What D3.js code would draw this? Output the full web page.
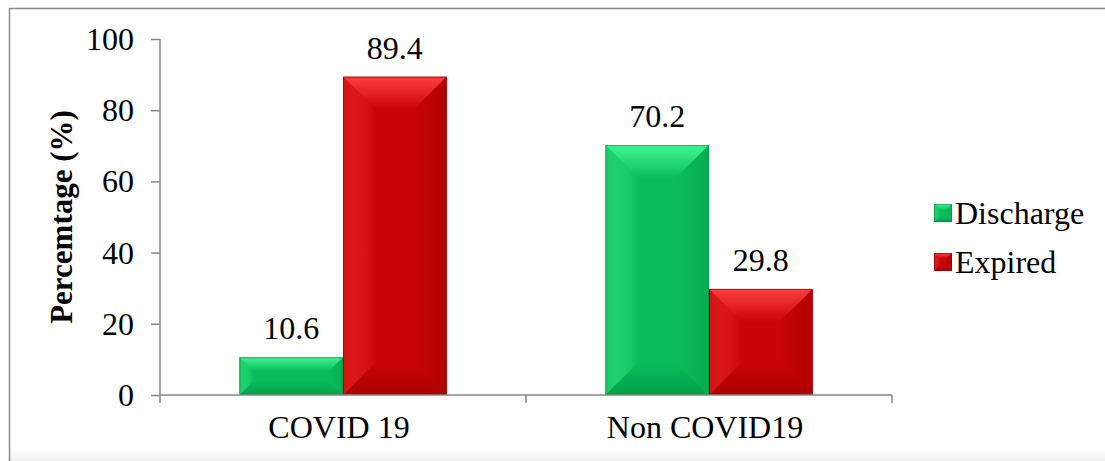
<!DOCTYPE html>
<html><head><meta charset="utf-8">
<script src="https://cdn.jsdelivr.net/npm/d3@7"></script>
<style>
html,body{margin:0;padding:0;background:#fff;}
svg{display:block;}
svg text{font-family:"Liberation Serif","Times New Roman",serif;}
</style></head>
<body>
<svg id="chart" width="1105" height="461"></svg>
<script>
const categories = ["COVID 19", "Non COVID19"];
const seriesNames = ["Discharge", "Expired"];
const discharge = [10.6, 70.2];
const expired = [89.4, 29.8];
const yTicks = [0, 20, 40, 60, 80, 100];
const yTitle = "Percemtage (%)";

const FONT = "'Liberation Serif', 'Times New Roman', serif";
const FS = 32;

const palette = {
  Discharge: {base:"#0bbd5a", light:"#3ff592", dark:"#00a04a", side:"#07ad50", edge:"#078a40"},
  Expired:   {base:"#c80404", light:"#ff4040", dark:"#aa0000", side:"#b20000", edge:"#8a0000"}
};

const svg = d3.select("#chart").attr("font-family", FONT);
const W = 1105, H = 461;
const plot = {left:160, right:892, top:39, bottom:395};

const defs = svg.append("defs");
const sh = defs.append("linearGradient").attr("id","bshadow").attr("x1",0).attr("y1",0).attr("x2",0).attr("y2",1);
sh.append("stop").attr("offset","0%").attr("stop-color","#fff").attr("stop-opacity",0);
sh.append("stop").attr("offset","100%").attr("stop-color","#ececec").attr("stop-opacity",1);
svg.append("rect").attr("x",10).attr("y",443).attr("width",W).attr("height",20).attr("fill","url(#bshadow)");
svg.append("rect").attr("x",9.5).attr("y",8.5).attr("width",W+20).attr("height",H+20)
  .attr("fill","none").attr("stroke","#8c8c8c").attr("stroke-width",1.5);

const x0 = d3.scaleBand().domain(categories).range([plot.left, plot.right]).paddingInner(0).paddingOuter(0);
const x1 = d3.scaleBand().domain(seriesNames).range([0, x0.bandwidth()]).paddingInner(0).paddingOuter(0.766);
const y = d3.scaleLinear().domain([0,100]).range([plot.bottom, plot.top]);

const data = [];
categories.forEach((c,i)=>{
  data.push({cat:c, s:"Discharge", v:discharge[i]});
  data.push({cat:c, s:"Expired", v:expired[i]});
});

seriesNames.forEach(s=>{
  const p = palette[s];
  const gt = defs.append("linearGradient").attr("id","top-"+s).attr("x1",0).attr("y1",0).attr("x2",0).attr("y2",1);
  gt.append("stop").attr("offset","0%").attr("stop-color",p.light);
  gt.append("stop").attr("offset","100%").attr("stop-color",p.base);
  const gb = defs.append("linearGradient").attr("id","bot-"+s).attr("x1",0).attr("y1",0).attr("x2",0).attr("y2",1);
  gb.append("stop").attr("offset","0%").attr("stop-color",p.base);
  gb.append("stop").attr("offset","100%").attr("stop-color",p.dark);
  const gl = defs.append("linearGradient").attr("id","left-"+s).attr("x1",0).attr("y1",0).attr("x2",1).attr("y2",0);
  gl.append("stop").attr("offset","0%").attr("stop-color",p.light).attr("stop-opacity",0.25);
  gl.append("stop").attr("offset","100%").attr("stop-color",p.base);
  const gr = defs.append("linearGradient").attr("id","right-"+s).attr("x1",0).attr("y1",0).attr("x2",1).attr("y2",0);
  gr.append("stop").attr("offset","0%").attr("stop-color",p.base);
  gr.append("stop").attr("offset","100%").attr("stop-color",p.side);
});

function bevel(g, xa, xb, ya, yb, s, bmax) {
  const w = xb-xa, h = yb-ya;
  const b = Math.min(bmax, h*0.37, w/2);
  const p = palette[s];
  g.append("rect").attr("x",xa).attr("y",ya).attr("width",w).attr("height",h).attr("fill",p.base);
  const poly = (pts, fill) => g.append("polygon").attr("points", pts.map(q=>q.join(",")).join(" ")).attr("fill",fill);
  poly([[xa,ya],[xb,ya],[xb-b,ya+b],[xa+b,ya+b]], "url(#top-"+s+")");
  poly([[xa,yb],[xb,yb],[xb-b,yb-b],[xa+b,yb-b]], "url(#bot-"+s+")");
  poly([[xa,ya],[xa+b,ya+b],[xa+b,yb-b],[xa,yb]], "url(#left-"+s+")");
  poly([[xb,ya],[xb-b,ya+b],[xb-b,yb-b],[xb,yb]], "url(#right-"+s+")");
  g.append("rect").attr("x",xa+0.5).attr("y",ya+0.5).attr("width",w-1).attr("height",h-1)
    .attr("fill","none").attr("stroke",p.edge).attr("stroke-width",1).attr("stroke-opacity",0.6);
}

const bars = svg.append("g");
data.forEach(d=>{
  const xa = x0(d.cat)+x1(d.s), xb = xa + x1.bandwidth();
  bevel(bars.append("g"), xa, xb, y(d.v), y(0), d.s, 33);
});

svg.append("g").selectAll("text").data(data).join("text")
  .attr("x", d=>x0(d.cat)+x1(d.s)+x1.bandwidth()/2)
  .attr("y", d=>y(d.v)-18)
  .attr("text-anchor","middle").attr("font-size",FS).attr("font-family",FONT).attr("fill","#000")
  .text(d=>d.v.toFixed(1));

const axisColor = "#878787";
const yAxis = svg.append("g").attr("transform",`translate(${plot.left},0)`)
  .call(d3.axisLeft(y).tickValues(yTicks).tickSize(9).tickPadding(17).tickFormat(d3.format("d")))
  .attr("font-family",FONT);
yAxis.select(".domain").attr("stroke",axisColor).attr("stroke-width",1.5).attr("d",`M0,${plot.top}V${plot.bottom}`);
yAxis.selectAll(".tick line").attr("stroke",axisColor).attr("stroke-width",1.5);
yAxis.selectAll(".tick text").attr("font-size",FS).attr("fill","#000").attr("font-family",FONT).attr("dy","0.33em");

const xAxis = svg.append("g").attr("transform",`translate(0,${plot.bottom})`)
  .call(d3.axisBottom(x0).tickSize(0).tickPadding(32))
  .attr("font-family",FONT);
xAxis.select(".domain").attr("stroke",axisColor).attr("stroke-width",1.5).attr("d",`M${plot.left},0H${plot.right}`);
xAxis.selectAll(".tick text").attr("font-size",FS).attr("fill","#000").attr("font-family",FONT).attr("dy","0.33em").attr("dx","-4");
const seps = [plot.left].concat(categories.map(c=>x0(c)+x0.bandwidth()));
xAxis.selectAll("line.sep").data(seps).join("line").attr("class","sep")
  .attr("x1",d=>d).attr("x2",d=>d).attr("y1",0).attr("y2",8)
  .attr("stroke",axisColor).attr("stroke-width",1.5);

svg.append("text").attr("transform",`translate(72,${(plot.top+plot.bottom)/2}) rotate(-90)`)
  .attr("text-anchor","middle").attr("font-size",31).attr("font-weight","bold").attr("font-family",FONT).text(yTitle);

const leg = svg.append("g");
seriesNames.forEach((s,i)=>{
  const gy = 204 + i*49;
  const g = leg.append("g");
  bevel(g, 934, 952, gy, gy+18, s, 6);
  g.append("text").attr("x",955).attr("y",gy+9).attr("dy","0.35em").attr("font-size",FS).attr("font-family",FONT).text(s);
});
</script>
</body></html>
